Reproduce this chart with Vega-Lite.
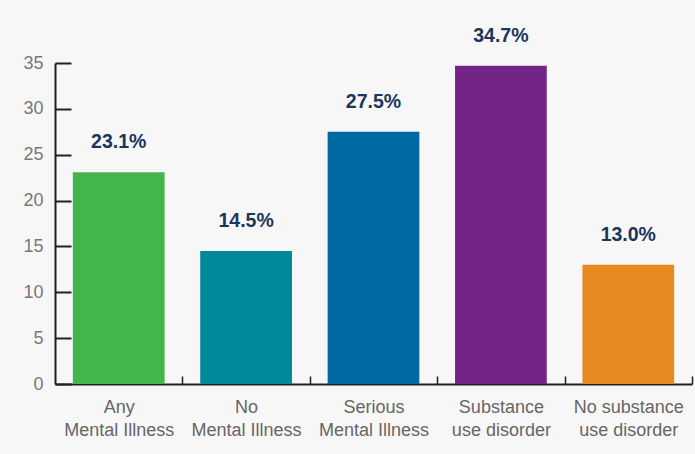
{
  "$schema": "https://vega.github.io/schema/vega-lite/v6.json",
  "width": 637,
  "height": 321,
  "autosize": {"type": "none"},
  "padding": {"left": 55, "top": 63, "right": 3, "bottom": 70},
  "background": "#f7f7f7",
  "config": {
    "view": {"stroke": null},
    "font": "Liberation Sans"
  },
  "data": {
    "values": [
      {"category": "Any\nMental Illness", "value": 23.1, "label": "23.1%", "color": "#44b54a"},
      {"category": "No\nMental Illness", "value": 14.5, "label": "14.5%", "color": "#00899a"},
      {"category": "Serious\nMental Illness", "value": 27.5, "label": "27.5%", "color": "#0068a3"},
      {"category": "Substance\nuse disorder", "value": 34.7, "label": "34.7%", "color": "#732486"},
      {"category": "No substance\nuse disorder", "value": 13.0, "label": "13.0%", "color": "#e6891e"}
    ]
  },
  "encoding": {
    "x": {
      "field": "category",
      "type": "nominal",
      "sort": null,
      "scale": {"paddingInner": 0.28, "paddingOuter": 0.14},
      "axis": {
        "title": null,
        "labelAngle": 0,
        "labelExpr": "split(datum.label, '\\n')",
        "labelFontSize": 18,
        "labelColor": "#666666",
        "labelLineHeight": 23,
        "labelPadding": 22,
        "labelBaseline": "top",
        "tickSize": -8,
        "tickWidth": 1.5,
        "tickColor": "#231f20",
        "domainColor": "#231f20",
        "domainWidth": 2,
        "tickOffset": 63.7,
        "labelOffset": -63.7
      }
    },
    "y": {
      "field": "value",
      "type": "quantitative",
      "scale": {"domain": [0, 35], "nice": false},
      "axis": {
        "title": null,
        "values": [0, 5, 10, 15, 20, 25, 30, 35],
        "grid": false,
        "labelFontSize": 18,
        "labelColor": "#777777",
        "labelPadding": 28,
        "tickSize": -16,
        "tickWidth": 2,
        "tickColor": "#231f20",
        "domainColor": "#231f20",
        "domainWidth": 2
      }
    }
  },
  "layer": [
    {
      "mark": {"type": "bar"},
      "encoding": {
        "color": {"field": "color", "type": "nominal", "scale": null, "legend": null}
      }
    },
    {
      "mark": {"type": "text", "dy": -24, "baseline": "alphabetic", "fontWeight": "bold", "fontSize": 19.5, "color": "#1b365d"},
      "encoding": {
        "text": {"field": "label", "type": "nominal"}
      }
    }
  ]
}
